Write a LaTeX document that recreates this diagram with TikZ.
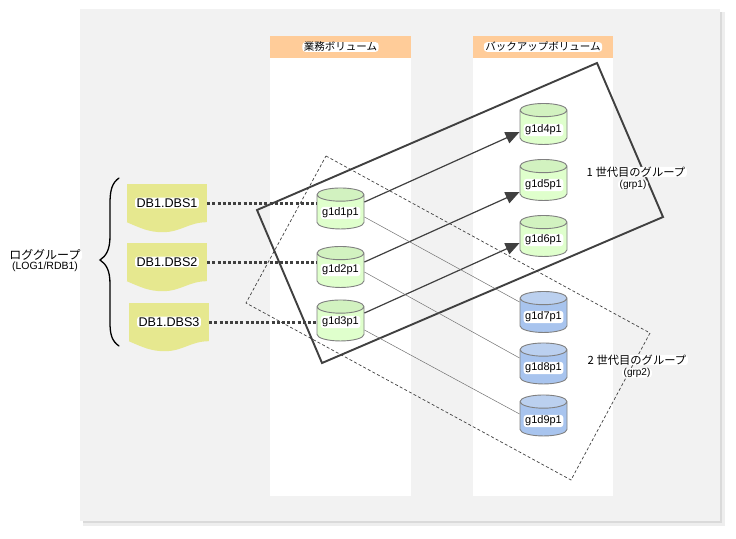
\documentclass[tikz,border=0pt]{standalone}
\usepackage{fontspec}
\setmainfont{Liberation Sans}
\newfontfamily\jpfont{Noto Sans CJK JP}
\usetikzlibrary{shapes.geometric,arrows.meta}
\definecolor{panelgray}{HTML}{F2F2F2}
\definecolor{shadowgray}{HTML}{DADADA}
\definecolor{headorange}{HTML}{FFCC99}
\definecolor{docyellow}{HTML}{E6E88F}
\definecolor{linegray}{HTML}{404040}
\definecolor{diskgreen}{HTML}{DFFFCC}
\definecolor{diskgreentop}{HTML}{D2F2C0}
\definecolor{diskblue}{HTML}{A8C4EE}
\definecolor{diskbluetop}{HTML}{BBD0EF}
\tikzset{
        column/.style={fill=white, draw=none},
        halotext/.style={fill=white, rounded corners=3pt, inner xsep=1.5pt, inner ysep=1pt},
        headbox/.style={fill=headorange, minimum width=141pt, minimum height=22pt, inner sep=0pt},
        headtext/.style={halotext, inner ysep=0pt, font=\jpfont\fontsize{10.5}{11}\selectfont},
        docbox/.style={fill=docyellow, minimum width=80pt, minimum height=38pt, inner sep=0pt},
        doctext/.style={halotext, font=\fontsize{12.6}{14}\selectfont},
        docwave/.style={fill=docyellow, draw=none},
        disk/.style={cylinder, shape border rotate=90, draw=gray, line width=0.9pt, aspect=0.36,
                minimum width=47pt, minimum height=41pt, inner sep=0pt, cylinder uses custom fill,
                font=\fontsize{11}{12}\selectfont},
        greendisk/.style={disk, cylinder body fill=diskgreen, cylinder end fill=diskgreentop},
        bluedisk/.style={disk, cylinder body fill=diskblue, cylinder end fill=diskbluetop},
        disktext/.style={halotext, font=\fontsize{11}{12}\selectfont},
        grouptext/.style={halotext, inner ysep=0pt, font=\jpfont\fontsize{11.3}{12}\selectfont},
        subtext/.style={halotext, inner ysep=0pt, font=\fontsize{10}{11}\selectfont},
        logline/.style={line width=3pt, linegray, dash pattern=on 3pt off 2.2pt},
        copyarrow/.style={line width=1.2pt, linegray, -{Triangle[length=14pt,width=12pt]}},
        copyline/.style={line width=0.5pt, gray!90!black}
}
\begin{document}
\begin{tikzpicture}[x=1pt,y=-1pt]
        \useasboundingbox (0,0) rectangle (736,538);

        %Panel
        \fill [shadowgray!45] (83,12) rectangle (725,526);
        \fill [shadowgray] (83,12) rectangle (722,523);
        \fill [panelgray] (80,9) rectangle (720,521);

        %Columns
        \fill [column] (270,58) rectangle (411,496);
        \fill [column] (473,58) rectangle (613,496);
        \node [headbox] (headwork) at (340.5,47) {};
        \node [headtext] (headworktext) at (headwork) {業務ボリューム};
        \node [headbox, minimum width=140pt] (headbackup) at (543,47) {};
        \node [headtext] (headbackuptext) at (headbackup) {バックアップボリューム};

        %Groups
        \draw [line width=0.7pt, linegray, dash pattern=on 3pt off 2.2pt] (326,156) -- (650,333) -- (571,480) -- (246,303) -- cycle;
        \draw [line width=1.9pt, linegray] (597,63) -- (663,217) -- (322,363) -- (257,210) -- cycle;

        %Documents
        \node [docbox] (dbs1) at (167,203) {};
        \fill [docwave, shift={(dbs1.south west)}] (0,0) .. controls (14,6) and (22,10) .. (36,10) .. controls (54,10) and (62,0) .. (80,0) -- cycle;
        \node [doctext] (dbs1text) at (dbs1) {DB1.DBS1};
        \node [docbox] (dbs2) at (167,262) {};
        \fill [docwave, shift={(dbs2.south west)}] (0,0) .. controls (14,6) and (22,10) .. (36,10) .. controls (54,10) and (62,0) .. (80,0) -- cycle;
        \node [doctext] (dbs2text) at (dbs2) {DB1.DBS2};
        \node [docbox] (dbs3) at (169,322) {};
        \fill [docwave, shift={(dbs3.south west)}] (0,0) .. controls (14,6) and (22,10) .. (36,10) .. controls (54,10) and (62,0) .. (80,0) -- cycle;
        \node [doctext] (dbs3text) at (dbs3) {DB1.DBS3};

        %Business volumes
        \node [greendisk] (g1d1) at (340.5,212) {\phantom{g1d1p1}};
        \node [greendisk] (g1d2) at (340.5,270.5) {\phantom{g1d2p1}};
        \node [greendisk] (g1d3) at (340.5,324) {\phantom{g1d3p1}};

        %Backup volumes
        \node [greendisk] (g1d4) at (543.5,127.5) {\phantom{g1d4p1}};
        \node [greendisk] (g1d5) at (543.5,183.5) {\phantom{g1d5p1}};
        \node [greendisk] (g1d6) at (543.5,239.5) {\phantom{g1d6p1}};
        \node [bluedisk] (g1d7) at (543.5,315.5) {\phantom{g1d7p1}};
        \node [bluedisk] (g1d8) at (543.5,367) {\phantom{g1d8p1}};
        \node [bluedisk] (g1d9) at (543.5,419) {\phantom{g1d9p1}};

        %Log lines
        \draw [logline] (dbs1.east) -- (g1d1.west |- dbs1.east);
        \draw [logline] (dbs2.east) -- (g1d2.west |- dbs2.east);
        \draw [logline] (dbs3.east) -- (g1d3.west |- dbs3.east);

        %First generation
        \draw [copyarrow] ([yshift=10pt]g1d1.east) -- ([yshift=-4.5pt]g1d4.west);
        \draw [copyarrow] ([yshift=8.5pt]g1d2.east) -- ([yshift=-8.5pt]g1d5.west);
        \draw [copyarrow] ([yshift=11pt]g1d3.east) -- ([yshift=-3.5pt]g1d6.west);

        %Second generation
        \draw [copyline] ([yshift=-5pt]g1d1.east) -- ([yshift=13.5pt]g1d7.west);
        \draw [copyline] ([yshift=-1.5pt]g1d2.east) -- ([yshift=9pt]g1d8.west);
        \draw [copyline] ([yshift=-6pt]g1d3.east) -- ([yshift=5pt]g1d9.west);

        %Volume names
        \node [disktext] (g1d1text) at ([yshift=-1pt]g1d1.center) {g1d1p1};
        \node [disktext] (g1d2text) at ([yshift=0.5pt]g1d2.center) {g1d2p1};
        \node [disktext] (g1d3text) at ([yshift=2pt]g1d3.center) {g1d3p1};
        \node [disktext] (g1d4text) at ([yshift=-2.5pt]g1d4.center) {g1d4p1};
        \node [disktext] (g1d5text) at ([yshift=-1.5pt]g1d5.center) {g1d5p1};
        \node [disktext] (g1d6text) at ([yshift=-0.5pt]g1d6.center) {g1d6p1};
        \node [disktext] (g1d7text) at ([yshift=-1.5pt]g1d7.center) {g1d7p1};
        \node [disktext] (g1d8text) at ([yshift=-1pt]g1d8.center) {g1d8p1};
        \node [disktext] (g1d9text) at ([yshift=-2pt]g1d9.center) {g1d9p1};

        %Brace
        \draw [line width=1.3pt, line cap=round] (119,178) .. controls (112,183) and (110,190) .. (110,204) -- (110,236) .. controls (110,250) and (106,256) .. (100,260) .. controls (106,264) and (110,270) .. (110,284) -- (110,322) .. controls (110,335) and (112,341) .. (119,346);

        %Labels
        \node [grouptext, font=\jpfont\fontsize{12}{13}\selectfont] (loglabel) at (45,255) {ロググループ};
        \node [subtext, font=\fontsize{10.5}{11}\selectfont] (logsub) at (45,267) {(LOG1/RDB1)};
        \node [grouptext] (grp1label) at (636,172) {1 世代目のグループ};
        \node [subtext] (grp1sub) at (633,184.5) {(grp1)};
        \node [grouptext] (grp2label) at (637,360) {2 世代目のグループ};
        \node [subtext] (grp2sub) at (637,373) {(grp2)};

\end{tikzpicture}
\end{document}
